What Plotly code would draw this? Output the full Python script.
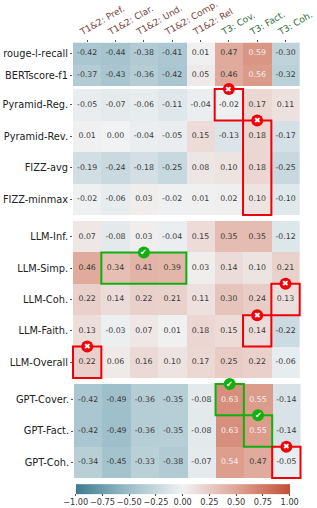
import plotly.graph_objects as go

W, H = 317, 508
columns = ["T1&2: Pref.", "T1&2: Clar.", "T1&2: Und.", "T1&2: Comp.", "T1&2: Rel", "T3: Cov.", "T3: Fact.", "T3: Coh."]
column_colors = ["#7a4238"] * 5 + ["#2f6b35"] * 3

rows_g1 = ["rouge-l-recall", "BERTscore-f1"]
values_g1 = [[-0.42, -0.44, -0.38, -0.41, 0.01, 0.47, 0.59, -0.30],
             [-0.37, -0.43, -0.36, -0.42, 0.05, 0.46, 0.56, -0.32]]
rows_g2 = ["Pyramid-Reg.", "Pyramid-Rev.", "FIZZ-avg", "FIZZ-minmax"]
values_g2 = [[-0.05, -0.07, -0.06, -0.11, -0.04, -0.02, 0.17, 0.11],
             [0.01, 0.00, -0.04, -0.05, 0.15, -0.13, 0.18, -0.17],
             [-0.19, -0.24, -0.18, -0.25, 0.08, 0.10, 0.18, -0.25],
             [-0.02, -0.06, 0.03, -0.02, 0.01, 0.02, 0.10, -0.10]]
rows_g3 = ["LLM-Inf.", "LLM-Simp.", "LLM-Coh.", "LLM-Faith.", "LLM-Overall"]
values_g3 = [[0.07, -0.08, 0.03, -0.04, 0.15, 0.35, 0.35, -0.12],
             [0.46, 0.34, 0.41, 0.39, 0.03, 0.14, 0.10, 0.21],
             [0.22, 0.14, 0.22, 0.21, 0.11, 0.30, 0.24, 0.13],
             [0.13, -0.03, 0.07, 0.01, 0.18, 0.15, 0.14, -0.22],
             [0.22, 0.06, 0.16, 0.10, 0.17, 0.25, 0.22, -0.06]]
rows_g4 = ["GPT-Cover.", "GPT-Fact.", "GPT-Coh."]
values_g4 = [[-0.42, -0.49, -0.36, -0.35, -0.08, 0.63, 0.55, -0.14],
             [-0.42, -0.49, -0.36, -0.35, -0.08, 0.63, 0.55, -0.14],
             [-0.34, -0.45, -0.33, -0.38, -0.07, 0.54, 0.47, -0.05]]

# (group, first col, last col, first row, last row, kind)
highlights = [(1, 5, 5, 0, 0, "bad"), (1, 6, 6, 1, 3, "bad"),
              (2, 1, 3, 1, 1, "good"), (2, 7, 7, 2, 2, "bad"), (2, 6, 6, 3, 3, "bad"), (2, 0, 0, 4, 4, "bad"),
              (3, 5, 5, 0, 0, "good"), (3, 6, 6, 1, 1, "good"), (3, 7, 7, 2, 2, "bad")]

groups = [(rows_g1, values_g1), (rows_g2, values_g2), (rows_g3, values_g3), (rows_g4, values_g4)]
spans = [(42.5, 86), (89, 215), (221, 378), (384, 478)]
x_spans = [(73, 299.7), (73, 299.7), (73, 299.7), (74, 300.5)]
FONT = "DejaVu Sans"
RED, GREEN = "#f00008", "#10b010"
colorscale = [[0, "#3c7c90"], [0.25, "#9dbec9"], [0.5, "#f1f2f3"], [0.75, "#dfa596"], [1, "#c05035"]]


def paper_x(g, edge):
    """Column edge (0..n) of group g in paper coordinates."""
    a, b = x_spans[g]
    return (a + (b - a) * edge / len(columns)) / W


def paper_y(g, edge):
    """Row edge (0..n) of group g in paper coordinates."""
    a, b = spans[g]
    return 1 - (a + (b - a) * edge / len(groups[g][0])) / H


fig = go.Figure()
col_idx = list(range(len(columns)))
shapes, marks, annotations = [], [], []
for g, (rows, vals) in enumerate(groups):
    xa = "x2" if g == 3 else "x"
    ya = "y" if g == 0 else f"y{g+1}"
    row_idx = list(range(len(rows)))
    fig.add_trace(go.Heatmap(z=vals, x=col_idx, y=row_idx, coloraxis="coloraxis", xaxis=xa, yaxis=ya,
                             xgap=0, ygap=0, hoverinfo="skip"))
    xs, ys, txt, cols = [], [], [], []
    for r, row in enumerate(vals):
        for c, v in enumerate(row):
            xs.append(c); ys.append(r); txt.append(f"{v:.2f}")
            cols.append("#f7efec" if v >= 0.54 else "#3a3a3a")
    fig.add_trace(go.Scatter(x=xs, y=ys, text=txt, mode="text", textposition="middle center", xaxis=xa, yaxis=ya,
                             textfont=dict(family=FONT, size=7.8, color=cols), showlegend=False, hoverinfo="skip"))

for (g, c0, c1, r0, r1, kind) in highlights:
    col = RED if kind == "bad" else GREEN
    shapes.append(dict(type="rect", xref="paper", yref="paper",
                       x0=paper_x(g, c0), x1=paper_x(g, c1 + 1), y0=paper_y(g, r0), y1=paper_y(g, r1 + 1),
                       line=dict(color=col, width=2), fillcolor="rgba(0,0,0,0)", layer="above"))
for (g, c0, c1, r0, r1, kind) in highlights:
    col = RED if kind == "bad" else GREEN
    xm, ym = paper_x(g, (c0 + c1 + 1) / 2), paper_y(g, r0)
    marks.append(dict(type="circle", xref="paper", yref="paper", xsizemode="pixel", ysizemode="pixel", xanchor=xm, yanchor=ym,
                      x0=-6, x1=6, y0=-6, y1=6, fillcolor=col, line=dict(width=0), layer="above"))
    annotations.append(dict(xref="paper", yref="paper", x=xm, y=ym, showarrow=False, xanchor="center", yanchor="middle",
                            text="\u2716" if kind == "bad" else "\u2714",
                            font=dict(family=FONT, size=8, color="white")))

layout = dict(width=W, height=H, margin=dict(l=0, r=0, t=0, b=0, autoexpand=False), paper_bgcolor="white", plot_bgcolor="white",
              font=dict(family=FONT, color="#262626"), showlegend=False, shapes=shapes + marks, annotations=annotations,
              coloraxis=dict(colorscale=colorscale, cmin=-1, cmax=1,
                             colorbar=dict(orientation="h", x=75.7/W, xanchor="left", xref="paper",
                                           y=0, yanchor="bottom", yref="paper", len=214.3, lenmode="pixels",
                                           thickness=10, thicknessmode="pixels", xpad=0, ypad=0,
                                           tickvals=[-1, -.75, -.5, -.25, 0, .25, .5, .75, 1], tickformat=".2f",
                                           ticklabelposition="outside top", ticks="outside", ticklen=2, tickwidth=.6,
                                           tickangle=0, tickcolor="#555", outlinewidth=0,
                                           tickfont=dict(family=FONT, size=8.2, color="#333"))))
tick_text = [f'<span style="color:{c}">{t}</span>' for t, c in zip(columns, column_colors)]
layout["xaxis"] = dict(domain=[x_spans[0][0]/W, x_spans[0][1]/W], anchor="y", side="top", range=[-.5, 7.5], tickvals=col_idx, ticktext=tick_text,
                       tickangle=-30, ticks="outside", ticklen=2, tickwidth=.6, tickcolor="#555", showgrid=False, zeroline=False,
                       tickfont=dict(family=FONT, size=9), showline=False, ticklabelshift=-7, automargin=False)
layout["xaxis2"] = dict(domain=[x_spans[3][0]/W, x_spans[3][1]/W], anchor="y4", range=[-.5, 7.5], showticklabels=False, ticks="", showgrid=False,
                        zeroline=False, showline=False)
for g, (rows, _) in enumerate(groups):
    top, bot = spans[g]
    key = "yaxis" if g == 0 else f"yaxis{g+1}"
    layout[key] = dict(domain=[1-bot/H, 1-top/H], anchor="x2" if g == 3 else "x", range=[len(rows)-.5, -.5],
                       tickvals=list(range(len(rows))), ticktext=rows, ticks="outside", ticklen=2, tickwidth=.6, tickcolor="#555",
                       showgrid=False, zeroline=False, showline=False, tickfont=dict(family=FONT, size=9.8, color="#222"))
fig.update_layout(**layout)
fig.write_html("out.html", config=dict(displayModeBar=False),
               post_script="document.body.style.margin='0';document.body.style.overflow='hidden';")
